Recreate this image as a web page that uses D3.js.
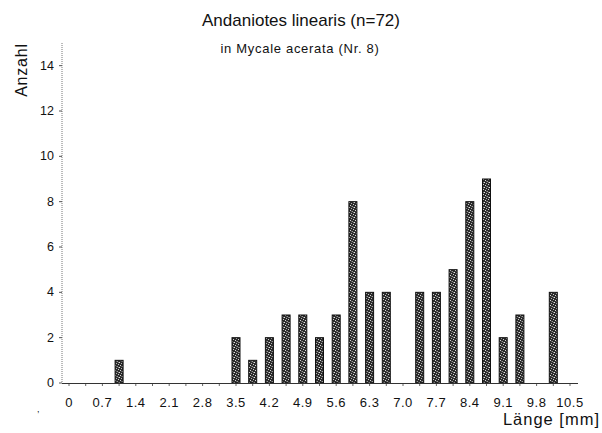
<!DOCTYPE html>
<html>
<head>
<meta charset="utf-8">
<script src="https://cdn.jsdelivr.net/npm/d3@7"></script>
<style>
	body{margin:0;background:#fff;}
	text{font-family:"Liberation Sans",Arial,sans-serif;fill:#111;}
</style>
</head>
<body>
<svg id="chart" width="602" height="433"></svg>
<script>
//length classes (mm) and counts
var lengths = [1.05,3.5,3.85,4.2,4.55,4.9,5.25,5.6,5.95,6.3,6.65,7.35,7.7,8.05,8.4,8.75,9.1,9.45,10.15]
var counts = [1,2,1,2,3,3,2,3,8,4,4,4,4,5,8,9,2,3,4]
var xlabels = ['0','0.7','1.4','2.1','2.8','3.5','4.2','4.9','5.6','6.3','7.0','7.7','8.4','9.1','9.8','10.5']
var yticks = [0,2,4,6,8,10,12,14]

var svg = d3.select('#chart')

var x = d3.scaleLinear().domain([0,10.5]).range([69,570])
var y = d3.scaleLinear().domain([0,15]).range([383,43])

//speckled fill like the printed bars
var defs = svg.append('defs')
var pat = defs.append('pattern').attr('id','speck').attr('width',5).attr('height',5).attr('patternUnits','userSpaceOnUse')
pat.append('rect').attr('width',5).attr('height',5).attr('fill','#2c2c2c')
var specks = [[0,0,'#d8d8d8'],[2,1,'#9a9a9a'],[4,2,'#e6e6e6'],[1,3,'#b0b0b0'],[3,4,'#cfcfcf'],[3,2,'#7a7a7a'],[1,1,'#5a5a5a']]
specks.forEach(function(s){
	pat.append('rect').attr('x',s[0]).attr('y',s[1]).attr('width',1).attr('height',1).attr('fill',s[2])
})

var data = lengths.map(function(l,i){return {len:l,n:counts[i]}})

//bars
svg.append('g').selectAll('rect').data(data).enter().append('rect')
	.attr('x',function(d){return x(d.len)-4})
	.attr('y',function(d){return y(d.n)})
	.attr('width',8)
	.attr('height',function(d){return y(0)-y(d.n)})
	.attr('fill','url(#speck)')
	.attr('stroke','#111').attr('stroke-width',1)

//y axis (dotted line, small ticks)
svg.append('line').attr('x1',62).attr('x2',62).attr('y1',y(15)).attr('y2',y(0))
	.attr('stroke','#777').attr('stroke-width',1).attr('stroke-dasharray','1,1')
var yg = svg.append('g')
yg.selectAll('line').data(yticks).enter().append('line')
	.attr('x1',59).attr('x2',62).attr('y1',function(d){return y(d)}).attr('y2',function(d){return y(d)})
	.attr('stroke','#555')
yg.selectAll('text').data(yticks).enter().append('text')
	.attr('x',54).attr('y',function(d){return y(d)+4})
	.attr('text-anchor','end').attr('font-size',12.5).text(function(d){return d})

//x axis
svg.append('line').attr('x1',62).attr('x2',578).attr('y1',y(0)+0.5).attr('y2',y(0)+0.5)
	.attr('stroke','#333').attr('stroke-width',1)
var minor = d3.range(0,31).map(function(i){return i*0.35})
svg.append('g').selectAll('line').data(minor).enter().append('line')
	.attr('x1',function(d){return x(d)}).attr('x2',function(d){return x(d)})
	.attr('y1',y(0)+1).attr('y2',y(0)+3)
	.attr('stroke','#666')
svg.append('g').selectAll('text').data(xlabels).enter().append('text')
	.attr('x',function(d){return x(+d)}).attr('y',407)
	.attr('text-anchor','middle').attr('font-size',13).attr('letter-spacing',0.5).text(function(d){return d})

//titles
svg.append('text').attr('x',301).attr('y',26).attr('text-anchor','middle').attr('font-size',17).text('Andaniotes linearis (n=72)')
svg.append('text').attr('x',300).attr('y',53).attr('text-anchor','middle').attr('font-size',13).attr('letter-spacing',0.7).text('in Mycale acerata (Nr. 8)')
svg.append('text').attr('transform','translate(27,70) rotate(-90)').attr('text-anchor','middle').attr('font-size',16).attr('letter-spacing',0.8).text('Anzahl')
svg.append('text').attr('x',600).attr('y',425).attr('text-anchor','end').attr('font-size',16.5).attr('letter-spacing',1).text('Länge [mm]')
svg.append('text').attr('x',37).attr('y',412).attr('font-size',9).text(',')
</script>
</body>
</html>
